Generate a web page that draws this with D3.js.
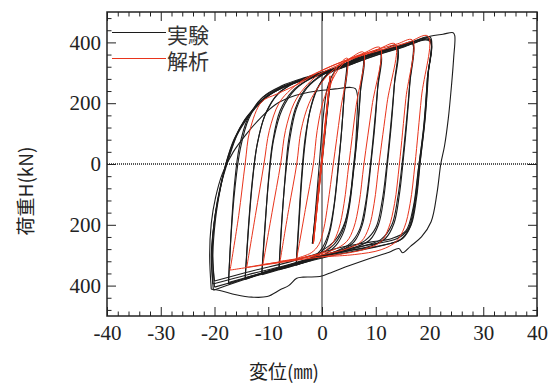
<!DOCTYPE html>
<html>
<head>
<meta charset="utf-8">
<script src="https://cdn.jsdelivr.net/npm/d3@7"></script>
<style>
  body { margin: 0; background: #fff; }
  svg { display: block; }
</style>
</head>
<body>
<div id="chart"></div>
<script>
// axis ticks and labels
const xTickValues = [-40, -30, -20, -10, 0, 10, 20, 30, 40];
const xTickLabels = ["-40", "-30", "-20", "-10", "0", "10", "20", "30", "40"];
const yTickValues = [-400, -200, 0, 200, 400];
const yTickLabels = ["400", "200", "0", "200", "400"];
const seriesNames = ["実験", "解析"];

// experiment: load cycles, [displacement mm, load kN]
const expCycles = [
  [[0,0],[0.8,140],[1.5,268],[0.7,130],[-0.2,-20],[-1,-150],[-1.7,-258]],
  [[-1.7,-258],[-0.9,-120],[0.1,40],[0.9,170],[1.6,280],[0.8,150],[-0.1,0],[-0.9,-130],[-1.8,-262]],
  [[-1.8,-262],[-1,-130],[0,20],[0.8,160],[1.5,272],[0.7,140],[-0.2,-10],[-1,-140],[-1.7,-255]],
  [[-1.7,-255],[-1.2,-150],[-0.5,0],[0.2,150],[1,250],[2.2,300],[3.4,322],[4.5,337],[4.2,250],[3.7,120],[3.1,0],[2.4,-120],[1.5,-220],[0.3,-280],[-1.5,-310],[-3.2,-322],[-4.8,-333]],
  [[-4.8,-333],[-4.3,-200],[-3.8,-60],[-3.2,60],[-2.3,170],[-1,245],[0.8,290],[2.6,312],[4.5,328],[4.1,220],[3.6,100],[3,-10],[2.2,-140],[1.2,-230],[-0.3,-285],[-2.5,-315],[-4.8,-328]],
  [[-4.8,-328],[-4.3,-180],[-3.8,-40],[-3.1,90],[-2,190],[-0.5,260],[1.5,305],[4,327],[6,345],[7.6,360],[7.2,250],[6.6,100],[5.9,-20],[5.1,-140],[4.1,-220],[2.6,-268],[0.5,-298],[-2.5,-318],[-5.5,-335],[-8,-348]],
  [[-8,-348],[-7.5,-200],[-6.9,-50],[-6.2,80],[-5,180],[-3.2,245],[-0.8,285],[2,308],[5,335],[7.6,352],[7.1,230],[6.5,90],[5.8,-30],[4.9,-150],[3.7,-225],[1.8,-272],[-1,-300],[-4.5,-325],[-8,-343]],
  [[-8,-343],[-7.5,-190],[-6.8,-40],[-6,80],[-4.8,180],[-2.8,250],[0,292],[3,318],[6,342],[8.8,362],[10.8,375],[10.4,260],[9.8,120],[9.1,0],[8.4,-110],[7.5,-200],[6,-255],[3.5,-285],[0,-305],[-4,-328],[-8,-348],[-11.2,-364]],
  [[-11.2,-364],[-10.6,-210],[-10,-60],[-9.2,70],[-7.8,175],[-5.5,240],[-2.5,278],[1,302],[4.5,325],[8,350],[10.8,366],[10.3,240],[9.6,100],[8.9,-20],[8.1,-130],[7,-215],[5.2,-262],[2.5,-288],[-1.5,-310],[-6,-335],[-11.2,-358]],
  [[-11.2,-358],[-10.6,-200],[-9.9,-50],[-9,80],[-7.4,180],[-5,245],[-2,282],[1.5,306],[5,332],[8.5,358],[11.5,376],[13.9,390],[13.5,270],[12.9,130],[12.2,5],[11.5,-110],[10.5,-200],[8.9,-250],[6,-275],[2.5,-292],[-1,-308],[-6,-332],[-10.5,-355],[-14.3,-380]],
  [[-14.3,-380],[-13.7,-220],[-13,-70],[-12.1,60],[-10.6,160],[-8.2,230],[-5,268],[-1,295],[3,318],[7,345],[11,368],[13.9,382],[13.4,250],[12.7,110],[12,-10],[11.2,-120],[10,-210],[8,-252],[5,-275],[1,-298],[-4,-322],[-9,-348],[-14.3,-374]],
  [[-14.3,-374],[-13.7,-210],[-13,-60],[-12,70],[-10.4,170],[-8,235],[-4.5,272],[-0.5,298],[3.5,322],[8,355],[12,376],[15,392],[16.8,402],[16.4,280],[15.8,140],[15.1,10],[14.4,-100],[13.4,-195],[11.8,-245],[9,-270],[5,-285],[0,-305],[-5,-330],[-10,-355],[-14,-375],[-17.4,-395]],
  [[-17.4,-395],[-16.9,-230],[-16.2,-80],[-15.2,50],[-13.6,150],[-11,220],[-7.5,257],[-3,285],[1.5,308],[6,338],[10.5,365],[14.5,385],[16.8,396],[16.3,260],[15.6,120],[14.9,0],[14.1,-110],[13,-200],[11,-248],[8,-268],[3,-290],[-2,-312],[-8,-342],[-13,-368],[-17.4,-390]],
  [[-17.4,-390],[-16.9,-220],[-16.3,-70],[-15.4,55],[-13.8,150],[-11.3,215],[-8,250],[-4,276],[0,299],[4,322],[8.5,358],[13,381],[17,402],[20.1,418],[19.8,300],[19.2,150],[18.3,10],[17.6,-110],[16.6,-200],[15,-245],[12,-265],[8,-280],[3,-297],[-2,-318],[-8,-345],[-14,-375],[-20,-405]],
  [[-20,-405],[-20.3,-300],[-19.8,-180],[-18.9,-80],[-17.8,5],[-16.2,85],[-14.4,145],[-12.4,188],[-10.4,222],[-8.2,246],[-5.4,268],[-2.5,285],[0.5,302],[4,322],[9,360],[15,390],[20,412],[19.7,290],[19.1,140],[18.2,0],[17.4,-120],[16.3,-210],[14.5,-250],[11,-268],[6,-282],[0,-303],[-6,-335],[-13,-372],[-20.2,-415]],
  [[-20.2,-415],[-20.6,-300],[-20,-185],[-19.1,-95],[-17.9,0],[-16.4,80],[-14.5,140],[-12.6,183],[-10.6,218],[-8.4,242],[-5.6,265],[-2.8,282],[0,297],[4,318],[9,352],[15,385],[20,408],[19.6,280],[19,130],[18,-10],[17.2,-130],[16,-215],[14,-245],[10,-262],[5,-278],[0,-300],[-7,-335],[-14,-365],[-20.3,-395]],
  [[-20.3,-395],[-20.5,-290],[-19.9,-170],[-19,-80],[-17.6,10],[-16,90],[-14.2,148],[-12.2,190],[-10,225],[-7.5,250],[-4.5,270],[-1,290],[3,312],[8,345],[14,378],[20,404],[19.6,280],[18.9,120],[17.9,-20],[17,-140],[15.6,-220],[13,-245],[9,-257],[4,-272],[0,-290],[-6,-322],[-13,-352],[-20,-385]],
  [[-20,-385],[-20.4,-280],[-19.8,-160],[-18.8,-70],[-17.4,15],[-15.8,95],[-13.9,150],[-11.8,195],[-9.5,230],[-6.8,255],[-3.5,276],[0,295],[4,320],[9,355],[14,382],[17.5,400],[20.1,420],[22.5,427],[24.4,432],[24.7,422],[24.5,350],[24.1,260],[23.5,150],[22.8,60],[22.1,0],[21.4,-95],[20.3,-190],[18.5,-240],[16.5,-270],[15,-292],[14.3,-278],[12.5,-290],[9,-310],[5,-335],[2,-355],[-0.4,-370],[-3.5,-372],[-4.7,-376],[-6.2,-400],[-7.8,-414],[-10.2,-436],[-13,-438],[-16,-430],[-19,-416],[-20.6,-412]],
  [[-20.6,-412],[-20.9,-300],[-20.6,-195],[-19.8,-110],[-18.5,-30],[-16.5,40],[-14,100],[-11.5,150],[-8.7,195],[-5,225],[-1,240],[2.5,247],[5.2,252],[6.2,248],[6.6,225],[6.5,150],[6.2,50],[5.9,0],[5.3,-100],[4.3,-190],[2.5,-250],[0,-285]]
];

// analysis: load cycles, [displacement mm, load kN]
const anaCycles = [
  [[0,5],[0.75,150],[1.5,290],[0.7,150],[0,10],[-0.8,-125],[-1.6,-262],[-0.8,-125],[0,8],[0.75,148],[1.5,288],[0.7,145],[-0.1,-8],[-0.8,-130],[-1.6,-260]],
  [[-1.6,-260],[-0.9,-120],[0,30],[0.8,170],[1.6,260],[2.8,318],[4.7,348],[3.4,170],[2.1,0],[1.1,-130],[0.3,-215],[-0.6,-265],[-2,-292],[-4.7,-310]],
  [[-4.7,-310],[-3.1,-150],[-1.6,0],[-0.9,110],[0.2,205],[1.6,265],[3.5,322],[5.6,352],[7.7,368],[6.3,185],[5,0],[4.1,-130],[3.1,-215],[1.9,-262],[0.2,-290],[-3,-306],[-7.8,-320]],
  [[-7.8,-320],[-6.2,-150],[-4.7,0],[-3.9,110],[-2.4,200],[-0.6,255],[1.5,300],[4.5,340],[7.8,365],[10.8,383],[9.3,190],[7.8,0],[6.9,-130],[5.9,-210],[4.6,-255],[2.2,-282],[-1,-298],[-6,-317],[-11,-331]],
  [[-11,-331],[-9.3,-160],[-7.7,0],[-6.8,110],[-5.2,200],[-3.3,250],[-0.8,292],[3,325],[7,355],[10.5,378],[13.6,395],[12.1,200],[10.6,0],[9.7,-130],[8.7,-210],[7.3,-255],[4.8,-278],[1,-295],[-5,-314],[-10,-328],[-14,-340]],
  [[-14,-340],[-12.4,-170],[-10.8,0],[-9.8,110],[-8,200],[-5.8,245],[-3,282],[0.5,312],[5,345],[10,375],[14,395],[16.8,408],[15.6,215],[14.4,0],[13.5,-130],[12.4,-210],[11,-255],[8,-280],[3,-298],[-3,-312],[-10,-330],[-17.1,-349]],
  [[-17.1,-349],[-15.5,-170],[-14.3,0],[-13.4,112],[-11.2,205],[-8.4,230],[-4.1,266],[0,308],[4,338],[8,360],[12,380],[16,400],[19.7,421],[18.5,220],[17.3,0],[16.4,-130],[15.3,-210],[13.8,-255],[11,-282],[6,-298],[0,-305]]
];

const width = 555, height = 383;
const plot = { left: 107, right: 537, top: 12, bottom: 316 };
const ink = "#222";
const expColor = "#1c1c1c";
const anaColor = "#e8341c";
const numFont = "Liberation Serif, DejaVu Serif, serif";
const jpFont = "Noto Sans CJK JP, Noto Sans, sans-serif";

const x = d3.scaleLinear().domain([-40, 40]).range([plot.left, plot.right]);
const y = d3.scaleLinear().domain([-500, 500]).range([plot.bottom, plot.top]);

const svg = d3.select("#chart").append("svg")
  .attr("width", width)
  .attr("height", height);

// inward tick marks on all four sides
const xMinor = d3.range(-38, 40, 2).filter((d) => d % 10 !== 0);
const yMinor = d3.range(-480, 481, 40).filter((d) => d % 200 !== 0);

function ticksOnly(axis, values, size) {
  return axis.tickValues(values).tickSize(size).tickFormat("");
}
function styleTicks(g) {
  g.select(".domain").remove();
  g.selectAll(".tick line").attr("stroke", ink).attr("stroke-width", 1);
}
function styleLabels(g) {
  g.attr("font-family", null).attr("font-size", null);
  g.selectAll("text")
    .attr("fill", ink)
    .style("font-family", numFont)
    .style("font-size", "21px");
}

[
  [d3.axisBottom(x), `translate(0,${plot.bottom})`, xMinor, -4.5],
  [d3.axisTop(x), `translate(0,${plot.top})`, xMinor, -4.5],
  [d3.axisTop(x), `translate(0,${plot.top})`, xTickValues, -9],
  [d3.axisLeft(y), `translate(${plot.left},0)`, yMinor, -4.5],
  [d3.axisRight(y), `translate(${plot.right},0)`, yMinor, -4.5],
  [d3.axisRight(y), `translate(${plot.right},0)`, yTickValues, -9],
].forEach(([axis, t, values, size]) => {
  svg.append("g").attr("transform", t)
    .call(ticksOnly(axis, values, size))
    .call(styleTicks);
});

// labelled axes
svg.append("g")
  .attr("transform", `translate(0,${plot.bottom})`)
  .call(d3.axisBottom(x).tickValues(xTickValues).tickSize(-9).tickPadding(9)
    .tickFormat((d, i) => xTickLabels[i]))
  .call(styleTicks)
  .call(styleLabels);

svg.append("g")
  .attr("transform", `translate(${plot.left},0)`)
  .call(d3.axisLeft(y).tickValues(yTickValues).tickSize(-9).tickPadding(6)
    .tickFormat((d, i) => yTickLabels[i]))
  .call(styleTicks)
  .call(styleLabels);

// zero lines
svg.append("line")
  .attr("x1", plot.left).attr("x2", plot.right)
  .attr("y1", y(0)).attr("y2", y(0))
  .attr("stroke", ink).attr("stroke-width", 1.3)
  .attr("stroke-dasharray", "1,1");
svg.append("line")
  .attr("x1", x(0)).attr("x2", x(0))
  .attr("y1", plot.top).attr("y2", plot.bottom)
  .attr("stroke", ink).attr("stroke-width", 1);

// loops
const line = d3.line()
  .x((d) => x(d[0]))
  .y((d) => y(d[1]))
  .curve(d3.curveCatmullRom.alpha(0.5));

svg.append("g")
  .selectAll("path")
  .data(expCycles)
  .join("path")
  .attr("d", line)
  .attr("fill", "none")
  .attr("stroke", expColor)
  .attr("stroke-width", 1.1);

svg.append("g")
  .selectAll("path")
  .data(anaCycles)
  .join("path")
  .attr("d", line)
  .attr("fill", "none")
  .attr("stroke", anaColor)
  .attr("stroke-width", 1);

// frame
svg.append("rect")
  .attr("x", plot.left).attr("y", plot.top)
  .attr("width", plot.right - plot.left)
  .attr("height", plot.bottom - plot.top)
  .attr("fill", "none")
  .attr("stroke", ink)
  .attr("stroke-width", 1.5);

// legend
const legend = svg.append("g")
  .selectAll("g")
  .data(seriesNames)
  .join("g")
  .attr("transform", (d, i) => `translate(112,${32.5 + i * 26})`);
legend.append("line")
  .attr("x1", 0).attr("x2", 54)
  .attr("stroke", (d, i) => (i ? anaColor : expColor))
  .attr("stroke-width", 1);
legend.append("text")
  .attr("x", 55)
  .attr("y", 1.5)
  .attr("dominant-baseline", "central")
  .style("font-family", jpFont)
  .style("font-size", "21px")
  .attr("fill", "#333")
  .text((d) => d);

// axis titles
svg.append("text")
  .attr("x", 284)
  .attr("y", 370)
  .attr("text-anchor", "middle")
  .attr("dominant-baseline", "central")
  .style("font-family", jpFont)
  .style("font-size", "19px")
  .attr("fill", ink)
  .text("変位(㎜)");

svg.append("text")
  .attr("transform", "translate(24,191) rotate(-90)")
  .attr("text-anchor", "middle")
  .attr("dominant-baseline", "central")
  .style("font-family", jpFont)
  .style("font-size", "19px")
  .attr("fill", ink)
  .text("荷重H(kN)");
</script>
</body>
</html>
